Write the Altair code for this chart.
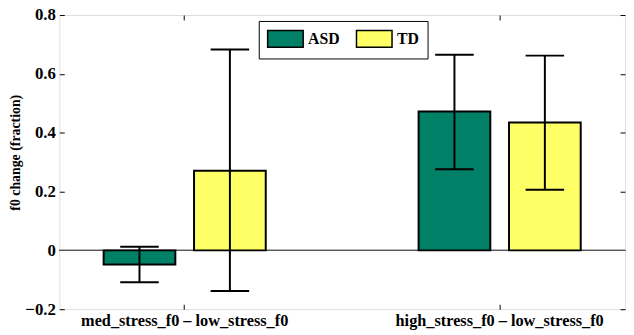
import altair as alt
import pandas as pd

groups = ["med_stress_f0 – low_stress_f0", "high_stress_f0 – low_stress_f0"]
subjects = ["ASD", "TD"]
asd_mean = [-0.048, 0.472]
td_mean = [0.271, 0.435]
asd_lo = [-0.108, 0.276]
asd_hi = [0.012, 0.665]
td_lo = [-0.138, 0.206]
td_hi = [0.683, 0.662]
colors = ["#008066", "#FFFF66"]

rows = []
for i, g in enumerate(groups):
    rows.append(dict(group=g, subj="ASD", mean=asd_mean[i], lo=asd_lo[i], hi=asd_hi[i]))
    rows.append(dict(group=g, subj="TD", mean=td_mean[i], lo=td_lo[i], hi=td_hi[i]))
df = pd.DataFrame(rows)

FONT = "Liberation Serif"
W, H = 573, 298

xscale = alt.Scale(domain=groups, paddingInner=0.212, paddingOuter=0.004)
xoff = alt.Scale(domain=subjects, paddingInner=0.207, paddingOuter=0.476)
yscale = alt.Scale(domain=[-0.2, 0.8], nice=False, zero=False)

ylab = "datum.value == 0 ? '0' : replace(format(datum.value, '.1f'), '-', '\u2212')"

x_bottom = alt.X("group:N", scale=xscale, sort=groups,
                 axis=alt.Axis(orient="bottom", offset=-5, tickSize=5, domain=False,
                               labelFont=FONT, labelFontWeight="bold", labelFontSize=16.5,
                               labelLimit=0,
                               labelColor="black", tickColor="black", tickWidth=1,
                               labelPadding=4, title=None, labelAngle=0, grid=False))
y_left = alt.Y("mean:Q", scale=yscale,
               axis=alt.Axis(orient="left", offset=-5, tickSize=5, domain=False,
                             values=[-0.2, 0, 0.2, 0.4, 0.6, 0.8], labelExpr=ylab,
                             labelFont=FONT, labelFontWeight="bold", labelFontSize=17,
                             labelColor="black", tickColor="black", tickWidth=1,
                             labelPadding=4, grid=False,
                             title="f0 change (fraction)", titleFont=FONT,
                             titleFontWeight="bold", titleFontSize=14, titleColor="black",
                             titlePadding=2, titleY=139))
xo = alt.XOffset("subj:N", scale=xoff, sort=subjects)

bars = alt.Chart(df).mark_bar(stroke="black", strokeWidth=2).encode(
    x=x_bottom, xOffset=xo, y=y_left,
    color=alt.Color("subj:N", scale=alt.Scale(domain=subjects, range=colors),
                    legend=alt.Legend(title=None, orient="none", legendX=202, legendY=6,
                                      direction="horizontal",
                                      symbolType="M-1,-0.944L3,-0.944L3,0.944L-1,0.944Z",
                                      symbolSize=324, symbolStrokeColor="black",
                                      symbolStrokeWidth=1.5, symbolOpacity=1,
                                      labelFont=FONT, labelFontWeight="bold",
                                      labelFontSize=16, labelColor="black",
                                      labelOffset=22, columnPadding=13, padding=8,
                                      strokeColor="black", fillColor="white")),
)

zero = alt.Chart(df).mark_rule(color="#555555", strokeWidth=1).encode(
    y=alt.Y(datum=0, scale=yscale, axis=None),
)

rules = alt.Chart(df).mark_rule(color="black", strokeWidth=2).encode(
    x=alt.X("group:N", scale=xscale, sort=groups, axis=None),
    xOffset=xo,
    y=alt.Y("lo:Q", scale=yscale, axis=None),
    y2="hi:Q",
)

caps = alt.Chart(df).transform_fold(["lo", "hi"], as_=["k", "v"]).mark_tick(
    color="black", thickness=2, size=39, opacity=1
).encode(
    x=alt.X("group:N", scale=xscale, sort=groups,
            axis=alt.Axis(orient="top", offset=-5, tickSize=5, domain=False, labels=False,
                          title=None, tickColor="black", tickWidth=1, grid=False)),
    xOffset=xo,
    y=alt.Y("v:Q", scale=yscale,
            axis=alt.Axis(orient="right", offset=-5, tickSize=5, domain=False, labels=False,
                          values=[-0.2, 0, 0.2, 0.4, 0.6, 0.8],
                          title=None, tickColor="black", tickWidth=1, grid=False)),
)

chart = alt.layer(zero, bars, rules, caps).resolve_axis(
    x="independent", y="independent"
).properties(
    width=W, height=H,
    autosize=alt.AutoSizeParams(type="none"),
    padding={"left": 52, "top": 5, "right": 1, "bottom": 24},
).configure_view(stroke="black", strokeWidth=1).configure(background="white")

chart.save("out.html", embed_options={"renderer": "svg", "actions": False})
